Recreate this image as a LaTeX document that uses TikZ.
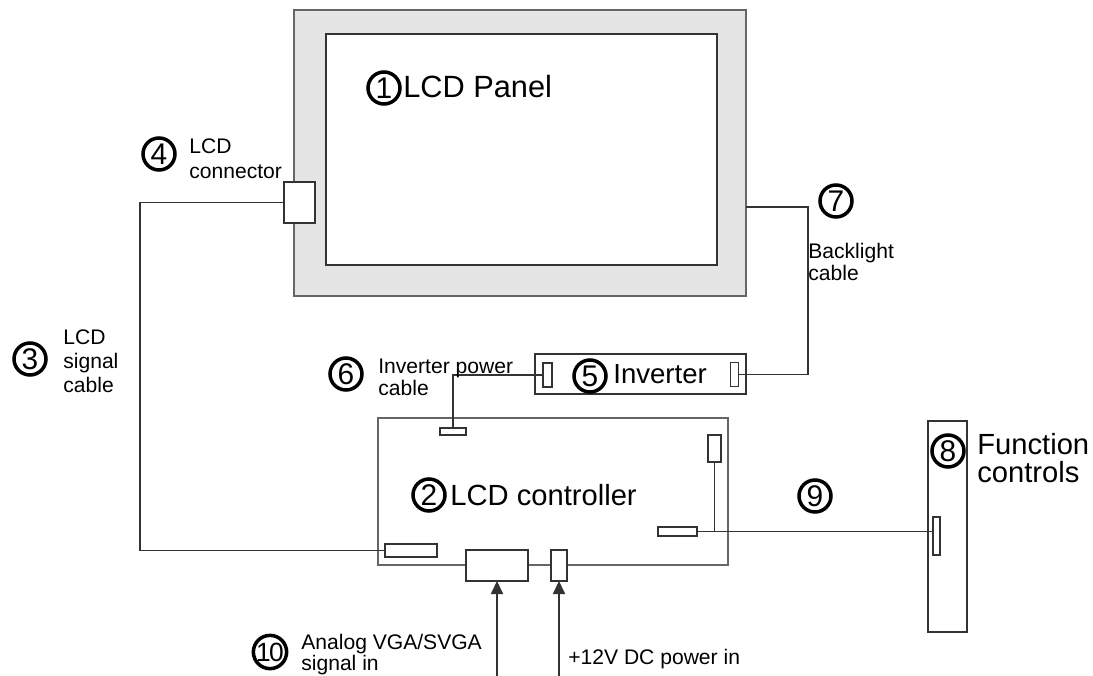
\documentclass[tikz,border=0pt]{standalone}
\usepackage{fontspec}
\setmainfont{Liberation Sans}
\usetikzlibrary{arrows.meta}
\tikzset{
  part/.style={draw=black!80, fill=white, line width=0.7pt, inner sep=0pt, outer sep=0pt},
  board/.style={part, draw=black!60, line width=1pt},
  wire/.style={draw=black!80, line width=0.7pt},
  num/.style={circle, draw, line width=2pt, inner sep=0pt, minimum size=0.64cm, font=\fontsize{17}{17}\selectfont},
  small/.style={anchor=base west, align=left, inner sep=0pt, font=\fontsize{12}{13.4}\selectfont},
  big/.style={anchor=base west, align=left, inner sep=0pt, font=\fontsize{16.6}{15.4}\selectfont},
}
\begin{document}
\begin{tikzpicture}[x=0.02cm, y=-0.02cm, >={Triangle[width=7pt,length=7.5pt]}]
    \useasboundingbox (0,0) rectangle (1093,676);
    % LCD panel with its connector
    \node[board, fill=black!10, minimum width=9.04cm, minimum height=5.72cm] (frame) at (520,153) {};
    \node[part, minimum width=7.82cm, minimum height=4.62cm] (screen) at (521.5,149.5) {};
    \node[part, minimum width=0.62cm, minimum height=0.82cm] (lcdconn) at (299.5,202.5) {};
    % inverter
    \node[part, minimum width=4.22cm, minimum height=0.8cm] (inv) at (640.5,374) {};
    \node[part, minimum width=0.18cm, minimum height=0.48cm] (invL) at (547.5,375) {};
    \node[part, minimum width=0.16cm, minimum height=0.48cm] (invR) at (734.5,374.5) {};
    % controller board
    \node[board, minimum width=7cm, minimum height=2.94cm] (ctrl) at (553,491.5) {};
    \node[part, minimum width=0.52cm, minimum height=0.14cm] (pwrconn) at (453,431.5) {};
    \node[part, minimum width=0.26cm, minimum height=0.54cm] (keyA) at (714.5,448.5) {};
    \node[part, minimum width=0.78cm, minimum height=0.18cm] (keyB) at (677.5,531.5) {};
    \node[part, minimum width=1.04cm, minimum height=0.26cm] (sigconn) at (411,550.5) {};
    \node[part, minimum width=1.24cm, minimum height=0.62cm] (vgaconn) at (497,565.5) {};
    \node[part, minimum width=0.32cm, minimum height=0.62cm] (dcconn) at (559,565.5) {};
    % function controls
    \node[part, minimum width=0.78cm, minimum height=4.22cm] (fc) at (947.5,526.5) {};
    \node[part, minimum width=0.14cm, minimum height=0.76cm] (fcconn) at (936.5,536) {};

    \coordinate (blbend) at (808,207);
    \coordinate (vgain) at (497,676);
    \coordinate (dcin) at (559,676);

    % cables
    \draw[wire] (lcdconn.west) -- ++(-144,0) |- (sigconn.west);
    \draw[wire] (invR.east) -| (blbend) -- (blbend -| frame.east);
    \draw[wire] (invL.west) -| (pwrconn.north);
    \draw[wire] (keyA.south) -- (keyA.south |- keyB.east);
    \draw[wire] (keyB.east) -- (keyB.east -| fcconn.west);
    \draw[wire, ->] (vgain) -- (vgaconn.south);
    \draw[wire, ->] (dcin) -- (dcconn.south);

    % numbers and labels (multi-line labels sit on their last baseline)
    \node[num] (n1) at (384,88) {1};
    \node[big, font=\fontsize{17.5}{19}\selectfont] (panel) at (403,97) {LCD Panel};
    \node[num] (n2) at (429,495) {2};
    \node[big] (ctrltext) at (450,505) {LCD controller};
    \node[num] (n3) at (30,359) {3};
    \node[small, font=\fontsize{12}{13.4}\selectfont] (sigtext) at (63,392) {LCD\\signal\\cable};
    \node[num] (n4) at (159,154) {4};
    \node[small, font=\fontsize{12}{14.2}\selectfont] (conntext) at (189,178) {LCD\\connector};
    \node[num] (n5) at (590,376) {5};
    \node[big, font=\fontsize{15.7}{17}\selectfont] (invtext) at (613,383) {Inverter};
    \node[num] (n6) at (346,374) {6};
    \node[small, font=\fontsize{12}{12.5}\selectfont] (pwrtext) at (378,395) {Inverter power\\cable};
    \node[num] (n7) at (836,201) {7};
    \node[small, font=\fontsize{12}{12.5}\selectfont] (bltext) at (808,280) {Backlight\\cable};
    \node[num] (n8) at (948,451) {8};
    \node[big] (fctext) at (977,482) {Function\\controls};
    \node[num] (n9) at (815,496) {9};
    \node[num, font=\fontsize{15}{15}\selectfont] (n10) at (270,652) {1\kern-1pt0};
    \node[small, font=\fontsize{12}{11.4}\selectfont] (vgatext) at (301,670) {Analog VGA/SVGA\\signal in};
    \node[small] (dctext) at (568,664) {+12V DC power in};
\end{tikzpicture}
\end{document}
